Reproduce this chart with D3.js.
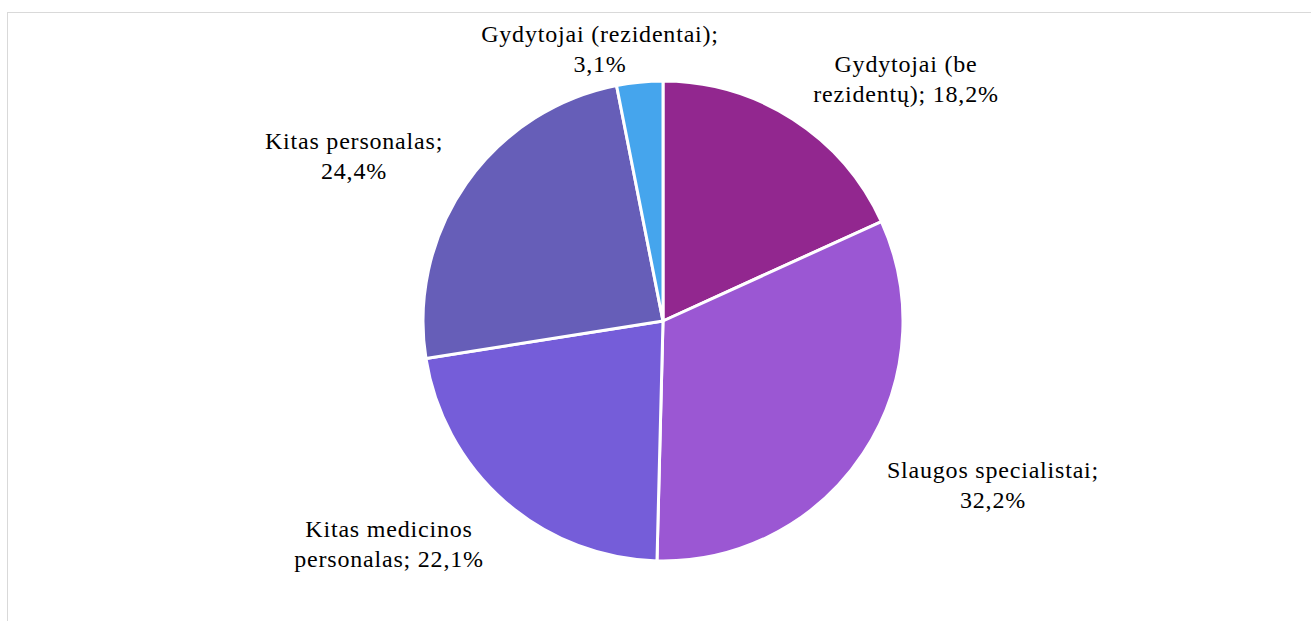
<!DOCTYPE html>
<html><head><meta charset="utf-8">
<script src="https://cdn.jsdelivr.net/npm/d3@7"></script>
<style>html,body{margin:0;padding:0;background:#fff;overflow:hidden}</style>
</head><body>
<svg id="c" width="1311" height="621"></svg>
<script>
const categories = ["Gydytojai (be rezidentų)", "Slaugos specialistai", "Kitas medicinos personalas", "Kitas personalas", "Gydytojai (rezidentai)"];
const values = [18.2, 32.2, 22.1, 24.4, 3.1];
const colors = ["#92278F", "#9B57D3", "#755DD9", "#665EB8", "#45A5ED"];
const labelLines = [
  ["Gydytojai (be", "rezidentų); 18,2%"],
  ["Slaugos specialistai;", "32,2%"],
  ["Kitas medicinos", "personalas; 22,1%"],
  ["Kitas personalas;", "24,4%"],
  ["Gydytojai (rezidentai);", "3,1%"]
];
const labelPos = [[906, 72], [993, 478], [389, 537], [354, 149], [600, 42]];

const svg = d3.select("#c");
svg.append("rect").attr("x", 7.5).attr("y", 12.5).attr("width", 1320).attr("height", 620)
  .attr("fill", "#fff").attr("stroke", "#d9d9d9").attr("stroke-width", 1);

const cx = 663, cy = 321, r = 240;
const pie = d3.pie().sort(null).value(d => d)(values);
const arc = d3.arc().innerRadius(0).outerRadius(r);
const g = svg.append("g").attr("transform", `translate(${cx},${cy})`);
g.selectAll("path").data(pie).join("path")
  .attr("d", arc).attr("fill", (d, i) => colors[i])
  .attr("stroke", "#fff").attr("stroke-width", 3).attr("stroke-linejoin", "round");

const lbl = svg.append("g")
  .style("font-family", "Liberation Serif, DejaVu Serif, serif")
  .style("font-size", "24px").style("letter-spacing", "0.8px")
  .attr("fill", "#000").attr("text-anchor", "middle");
labelLines.forEach((lines, i) => {
  const t = lbl.append("text").attr("x", labelPos[i][0]).attr("y", labelPos[i][1]);
  lines.forEach((s, j) => t.append("tspan").attr("x", labelPos[i][0]).attr("dy", j === 0 ? 0 : 30).text(s));
});
</script>
</body></html>
